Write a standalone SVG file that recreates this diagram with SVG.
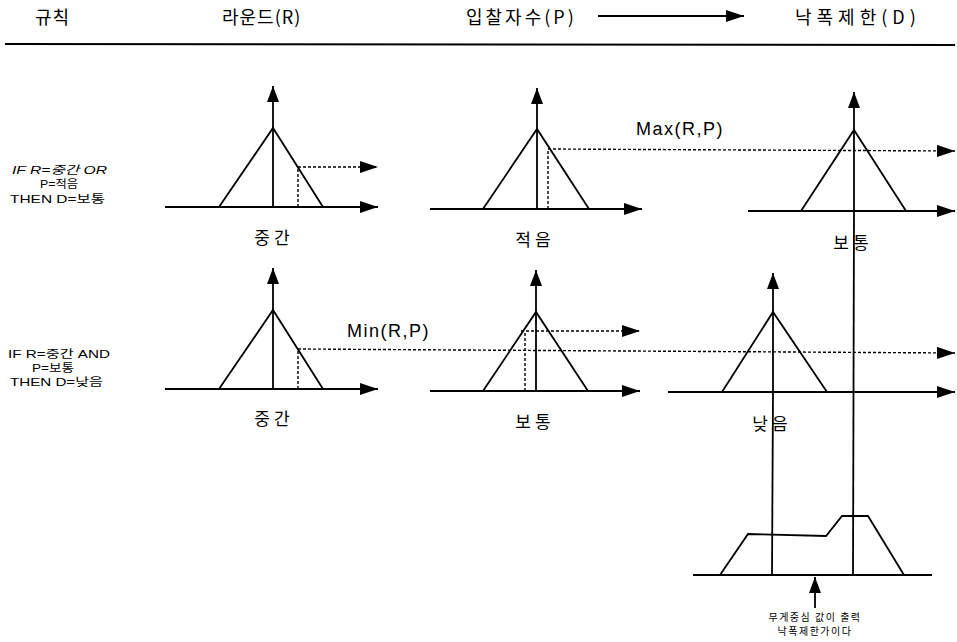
<svg xmlns="http://www.w3.org/2000/svg" width="957" height="642" viewBox="0 0 957 642">
  <style>
    .ax { fill: none; stroke: #000; stroke-width: 1.8; }
    .tri { fill: none; stroke: #000; stroke-width: 1.8; stroke-linejoin: miter; }
    .dash { fill: none; stroke: #000; stroke-width: 1.4; stroke-dasharray: 3 2; }
    .lbl { font-family: "Noto Sans CJK KR", "Liberation Sans", sans-serif; font-size: 17px; letter-spacing: 4px; text-anchor: middle; fill: #000; }
    .hdr { font-family: "Noto Sans CJK KR", "Liberation Sans", sans-serif; font-size: 18px; fill: #000; }
    .rule { font-family: "Liberation Sans", "Noto Sans CJK KR", sans-serif; font-size: 11.5px; fill: #000; }
    .op { font-family: "Liberation Sans", "Noto Sans CJK KR", sans-serif; font-size: 18px; letter-spacing: 1.5px; fill: #000; }
    .note { font-family: "Noto Sans CJK KR", "Liberation Sans", sans-serif; font-size: 10px; letter-spacing: 1.5px; text-anchor: middle; fill: #000; }
  </style>
  <defs>
    <marker id="ah" markerUnits="userSpaceOnUse" markerWidth="20" markerHeight="14" refX="18" refY="6" orient="auto">
      <path d="M0,0 L18,6 L0,12 Z" fill="#000" stroke="none"/>
    </marker>
    <marker id="ahs" markerUnits="userSpaceOnUse" markerWidth="18" markerHeight="14" refX="16" refY="6" orient="auto">
      <path d="M0,0 L16,6 L0,12 Z" fill="#000" stroke="none"/>
    </marker>
  </defs>

  <rect width="957" height="642" fill="#fff"/>

  <!-- column headings -->
  <g id="header">
    <text class="hdr" x="35" y="24" letter-spacing="1">규칙</text>
    <text class="hdr" x="222" y="24" letter-spacing="1">라운드(R)</text>
    <text class="hdr" x="466" y="24" letter-spacing="3">입찰자수(P)</text>
    <line class="ax" x1="598" y1="16" x2="744" y2="16" marker-end="url(#ah)"/>
    <text class="hdr" x="795" y="24" letter-spacing="5">낙폭제한(D)</text>
    <line x1="5" y1="44" x2="955" y2="45" stroke="#000" stroke-width="2"/>
  </g>

  <!-- rule texts -->
  <g id="rule1">
    <text class="rule" x="12" y="174" font-style="italic" textLength="95" lengthAdjust="spacingAndGlyphs">IF R=중간 OR</text>
    <text class="rule" x="40" y="188" textLength="38" lengthAdjust="spacingAndGlyphs">P=적음</text>
    <text class="rule" x="10" y="203" textLength="95" lengthAdjust="spacingAndGlyphs">THEN D=보통</text>
  </g>
  <g id="rule2">
    <text class="rule" x="8" y="358" textLength="102" lengthAdjust="spacingAndGlyphs">IF R=중간 AND</text>
    <text class="rule" x="32" y="372" textLength="42" lengthAdjust="spacingAndGlyphs">P=보통</text>
    <text class="rule" x="10" y="386" textLength="93" lengthAdjust="spacingAndGlyphs">THEN D=낮음</text>
  </g>

  <!-- rule 1: R = 중간 -->
  <g id="r1-round">
    <line class="ax" x1="165" y1="207" x2="378" y2="207" marker-end="url(#ah)"/>
    <line class="ax" x1="273" y1="207" x2="273" y2="86" marker-end="url(#ahs)"/>
    <polyline class="tri" points="219,207 273,128 323,207"/>
    <line class="dash" x1="298" y1="207" x2="298" y2="167"/>
    <line class="dash" x1="298" y1="167" x2="378" y2="167" marker-end="url(#ah)"/>
    <text class="lbl" x="274" y="244">중간</text>
  </g>

  <!-- rule 1: P = 적음 -->
  <g id="r1-bidders">
    <line class="ax" x1="430" y1="209" x2="642" y2="209" marker-end="url(#ah)"/>
    <line class="ax" x1="537" y1="209" x2="537" y2="88" marker-end="url(#ahs)"/>
    <polyline class="tri" points="483,209 537,129 589,209"/>
    <line class="dash" x1="548" y1="209" x2="548" y2="149"/>
    <text class="lbl" x="535" y="246">적음</text>
  </g>

  <!-- rule 1: D = 보통 -->
  <g id="r1-limit">
    <line class="ax" x1="748" y1="211" x2="955" y2="211" marker-end="url(#ah)"/>
    <line class="ax" x1="854" y1="211" x2="854" y2="92" marker-end="url(#ahs)"/>
    <polyline class="tri" points="801,211 854,130 906,211"/>
    <text class="lbl" x="853" y="249">보통</text>
  </g>

  <!-- rule 2: R = 중간 -->
  <g id="r2-round">
    <line class="ax" x1="165" y1="389" x2="378" y2="389" marker-end="url(#ah)"/>
    <line class="ax" x1="273" y1="389" x2="273" y2="268" marker-end="url(#ahs)"/>
    <polyline class="tri" points="219,389 273,310 323,389"/>
    <line class="dash" x1="298" y1="389" x2="298" y2="349"/>
    <text class="lbl" x="274" y="425">중간</text>
  </g>

  <!-- rule 2: P = 보통 -->
  <g id="r2-bidders">
    <line class="ax" x1="430" y1="391" x2="640" y2="391" marker-end="url(#ah)"/>
    <line class="ax" x1="536" y1="391" x2="536" y2="270" marker-end="url(#ahs)"/>
    <polyline class="tri" points="483,391 536,312 588,391"/>
    <line class="dash" x1="525" y1="391" x2="525" y2="331"/>
    <line class="dash" x1="521" y1="331" x2="640" y2="331" marker-end="url(#ah)"/>
    <text class="lbl" x="535" y="428">보통</text>
  </g>

  <!-- rule 2: D = 낮음 -->
  <g id="r2-limit">
    <line class="ax" x1="668" y1="392" x2="955" y2="392" marker-end="url(#ah)"/>
    <line class="ax" x1="773" y1="392" x2="773" y2="273" marker-end="url(#ahs)"/>
    <polyline class="tri" points="722,392 773,312 827,392"/>
    <text class="lbl" x="772" y="430">낮음</text>
  </g>

  <!-- aggregated output set -->
  <g id="output">
    <line class="ax" x1="693" y1="575" x2="932" y2="575"/>
    <polyline class="tri" points="720,575 748,534 826,536 842,516 868,516 904,575"/>
    <line class="ax" x1="815" y1="608" x2="815" y2="577" marker-end="url(#ahs)"/>
    <text class="note" x="815" y="621">무게중심 값이 출력</text>
    <text class="note" x="815" y="635">낙폭제한가이다</text>
  </g>

  <!-- connectors: Max / Min carry-over and projections to the output -->
  <g id="connectors">
    <line class="dash" x1="548" y1="149" x2="955" y2="151" marker-end="url(#ah)"/>
    <text class="op" x="636" y="135">Max(R,P)</text>
    <line class="dash" x1="298" y1="349" x2="955" y2="353" marker-end="url(#ah)"/>
    <text class="op" x="347" y="337">Min(R,P)</text>
    <line class="ax" x1="854" y1="211" x2="853" y2="575"/>
    <line class="ax" x1="773" y1="392" x2="772" y2="575"/>
  </g>
</svg>
